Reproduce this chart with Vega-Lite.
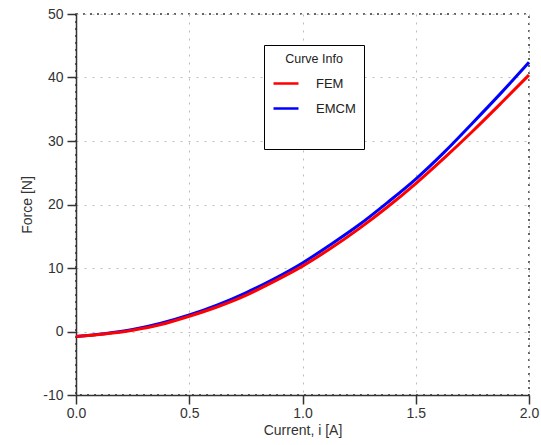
{
  "$schema": "https://vega.github.io/schema/vega-lite/v6.json",
  "width": 453,
  "height": 381,
  "autosize": {"type": "none"},
  "padding": {"left": 76, "top": 14, "right": 12, "bottom": 50},
  "background": "white",
  "config": {
    "font": "Liberation Sans",
    "view": {"stroke": "#333333", "strokeDash": [2, 5], "strokeWidth": 1.5},
    "axis": {
      "labelFont": "Liberation Sans",
      "titleFont": "Liberation Sans",
      "labelFontSize": 14,
      "titleFontSize": 14,
      "labelColor": "#333333",
      "titleColor": "#333333",
      "titleFontWeight": "normal",
      "domainColor": "#333333",
      "domainWidth": 1.5,
      "tickColor": "#333333",
      "tickWidth": 1.5,
      "tickSize": 9,
      "labelFlush": false,
      "labelOverlap": false,
      "gridColor": "#bbbbbb",
      "gridDash": [2, 6],
      "gridWidth": 1
    }
  },
  "data": {
    "values": [
      {"current": 0.0, "force": -0.8, "curve": "FEM"},
      {"current": 0.125, "force": -0.4, "curve": "FEM"},
      {"current": 0.25, "force": 0.2, "curve": "FEM"},
      {"current": 0.375, "force": 1.1, "curve": "FEM"},
      {"current": 0.5, "force": 2.4, "curve": "FEM"},
      {"current": 0.625, "force": 3.9, "curve": "FEM"},
      {"current": 0.75, "force": 5.7, "curve": "FEM"},
      {"current": 0.875, "force": 7.9, "curve": "FEM"},
      {"current": 1.0, "force": 10.3, "curve": "FEM"},
      {"current": 1.125, "force": 13.1, "curve": "FEM"},
      {"current": 1.25, "force": 16.2, "curve": "FEM"},
      {"current": 1.375, "force": 19.6, "curve": "FEM"},
      {"current": 1.5, "force": 23.3, "curve": "FEM"},
      {"current": 1.625, "force": 27.3, "curve": "FEM"},
      {"current": 1.75, "force": 31.5, "curve": "FEM"},
      {"current": 1.875, "force": 35.9, "curve": "FEM"},
      {"current": 2.0, "force": 40.4, "curve": "FEM"},
      {"current": 0.0, "force": -0.8, "curve": "EMCM"},
      {"current": 0.125, "force": -0.35, "curve": "EMCM"},
      {"current": 0.25, "force": 0.3, "curve": "EMCM"},
      {"current": 0.375, "force": 1.3, "curve": "EMCM"},
      {"current": 0.5, "force": 2.6, "curve": "EMCM"},
      {"current": 0.625, "force": 4.2, "curve": "EMCM"},
      {"current": 0.75, "force": 6.1, "curve": "EMCM"},
      {"current": 0.875, "force": 8.3, "curve": "EMCM"},
      {"current": 1.0, "force": 10.8, "curve": "EMCM"},
      {"current": 1.125, "force": 13.7, "curve": "EMCM"},
      {"current": 1.25, "force": 16.8, "curve": "EMCM"},
      {"current": 1.375, "force": 20.3, "curve": "EMCM"},
      {"current": 1.5, "force": 24.0, "curve": "EMCM"},
      {"current": 1.625, "force": 28.2, "curve": "EMCM"},
      {"current": 1.75, "force": 32.8, "curve": "EMCM"},
      {"current": 1.875, "force": 37.5, "curve": "EMCM"},
      {"current": 2.0, "force": 42.4, "curve": "EMCM"}
    ]
  },
  "encoding": {
    "x": {
      "field": "current",
      "type": "quantitative",
      "scale": {"domain": [0, 2], "nice": false},
      "axis": {"values": [0, 0.5, 1, 1.5, 2], "format": ".1f", "title": "Current, i [A]", "titlePadding": 3, "labelPadding": 2}
    },
    "y": {
      "field": "force",
      "type": "quantitative",
      "scale": {"domain": [-10, 50], "nice": false},
      "axis": {
        "values": [-10, 0, 10, 20, 30, 40, 50],
        "labelExpr": "datum.value < 0 ? '-' + abs(datum.value) : datum.label",
        "title": "Force [N]",
        "titlePadding": 8,
        "labelPadding": 4
      }
    },
    "color": {
      "field": "curve",
      "type": "nominal",
      "scale": {"domain": ["FEM", "EMCM", " "], "range": ["#ff0000", "#0000ff", "transparent"]},
      "legend": {
        "title": "Curve Info",
        "orient": "none",
        "legendX": 188,
        "legendY": 31,
        "direction": "vertical",
        "fillColor": "white",
        "strokeColor": "#000000",
        "padding": 8,
        "titleAnchor": "middle",
        "titleFontSize": 12.5,
        "titleFontWeight": "normal",
        "titleColor": "#222222",
        "titlePadding": 4,
        "labelFontSize": 13,
        "labelColor": "#222222",
        "labelOffset": 16,
        "labelLimit": 300,
        "labelExpr": "datum.label + '      '",
        "rowPadding": 4,
        "symbolType": "stroke",
        "symbolSize": 625,
        "symbolStrokeWidth": 2.5,
        "offset": 0
      }
    }
  },
  "layer": [
    {
      "transform": [{"filter": "datum.curve === 'EMCM'"}],
      "mark": {"type": "line", "strokeWidth": 3, "interpolate": "monotone"}
    },
    {
      "transform": [{"filter": "datum.curve === 'FEM'"}],
      "mark": {"type": "line", "strokeWidth": 3, "interpolate": "monotone"}
    }
  ]
}
